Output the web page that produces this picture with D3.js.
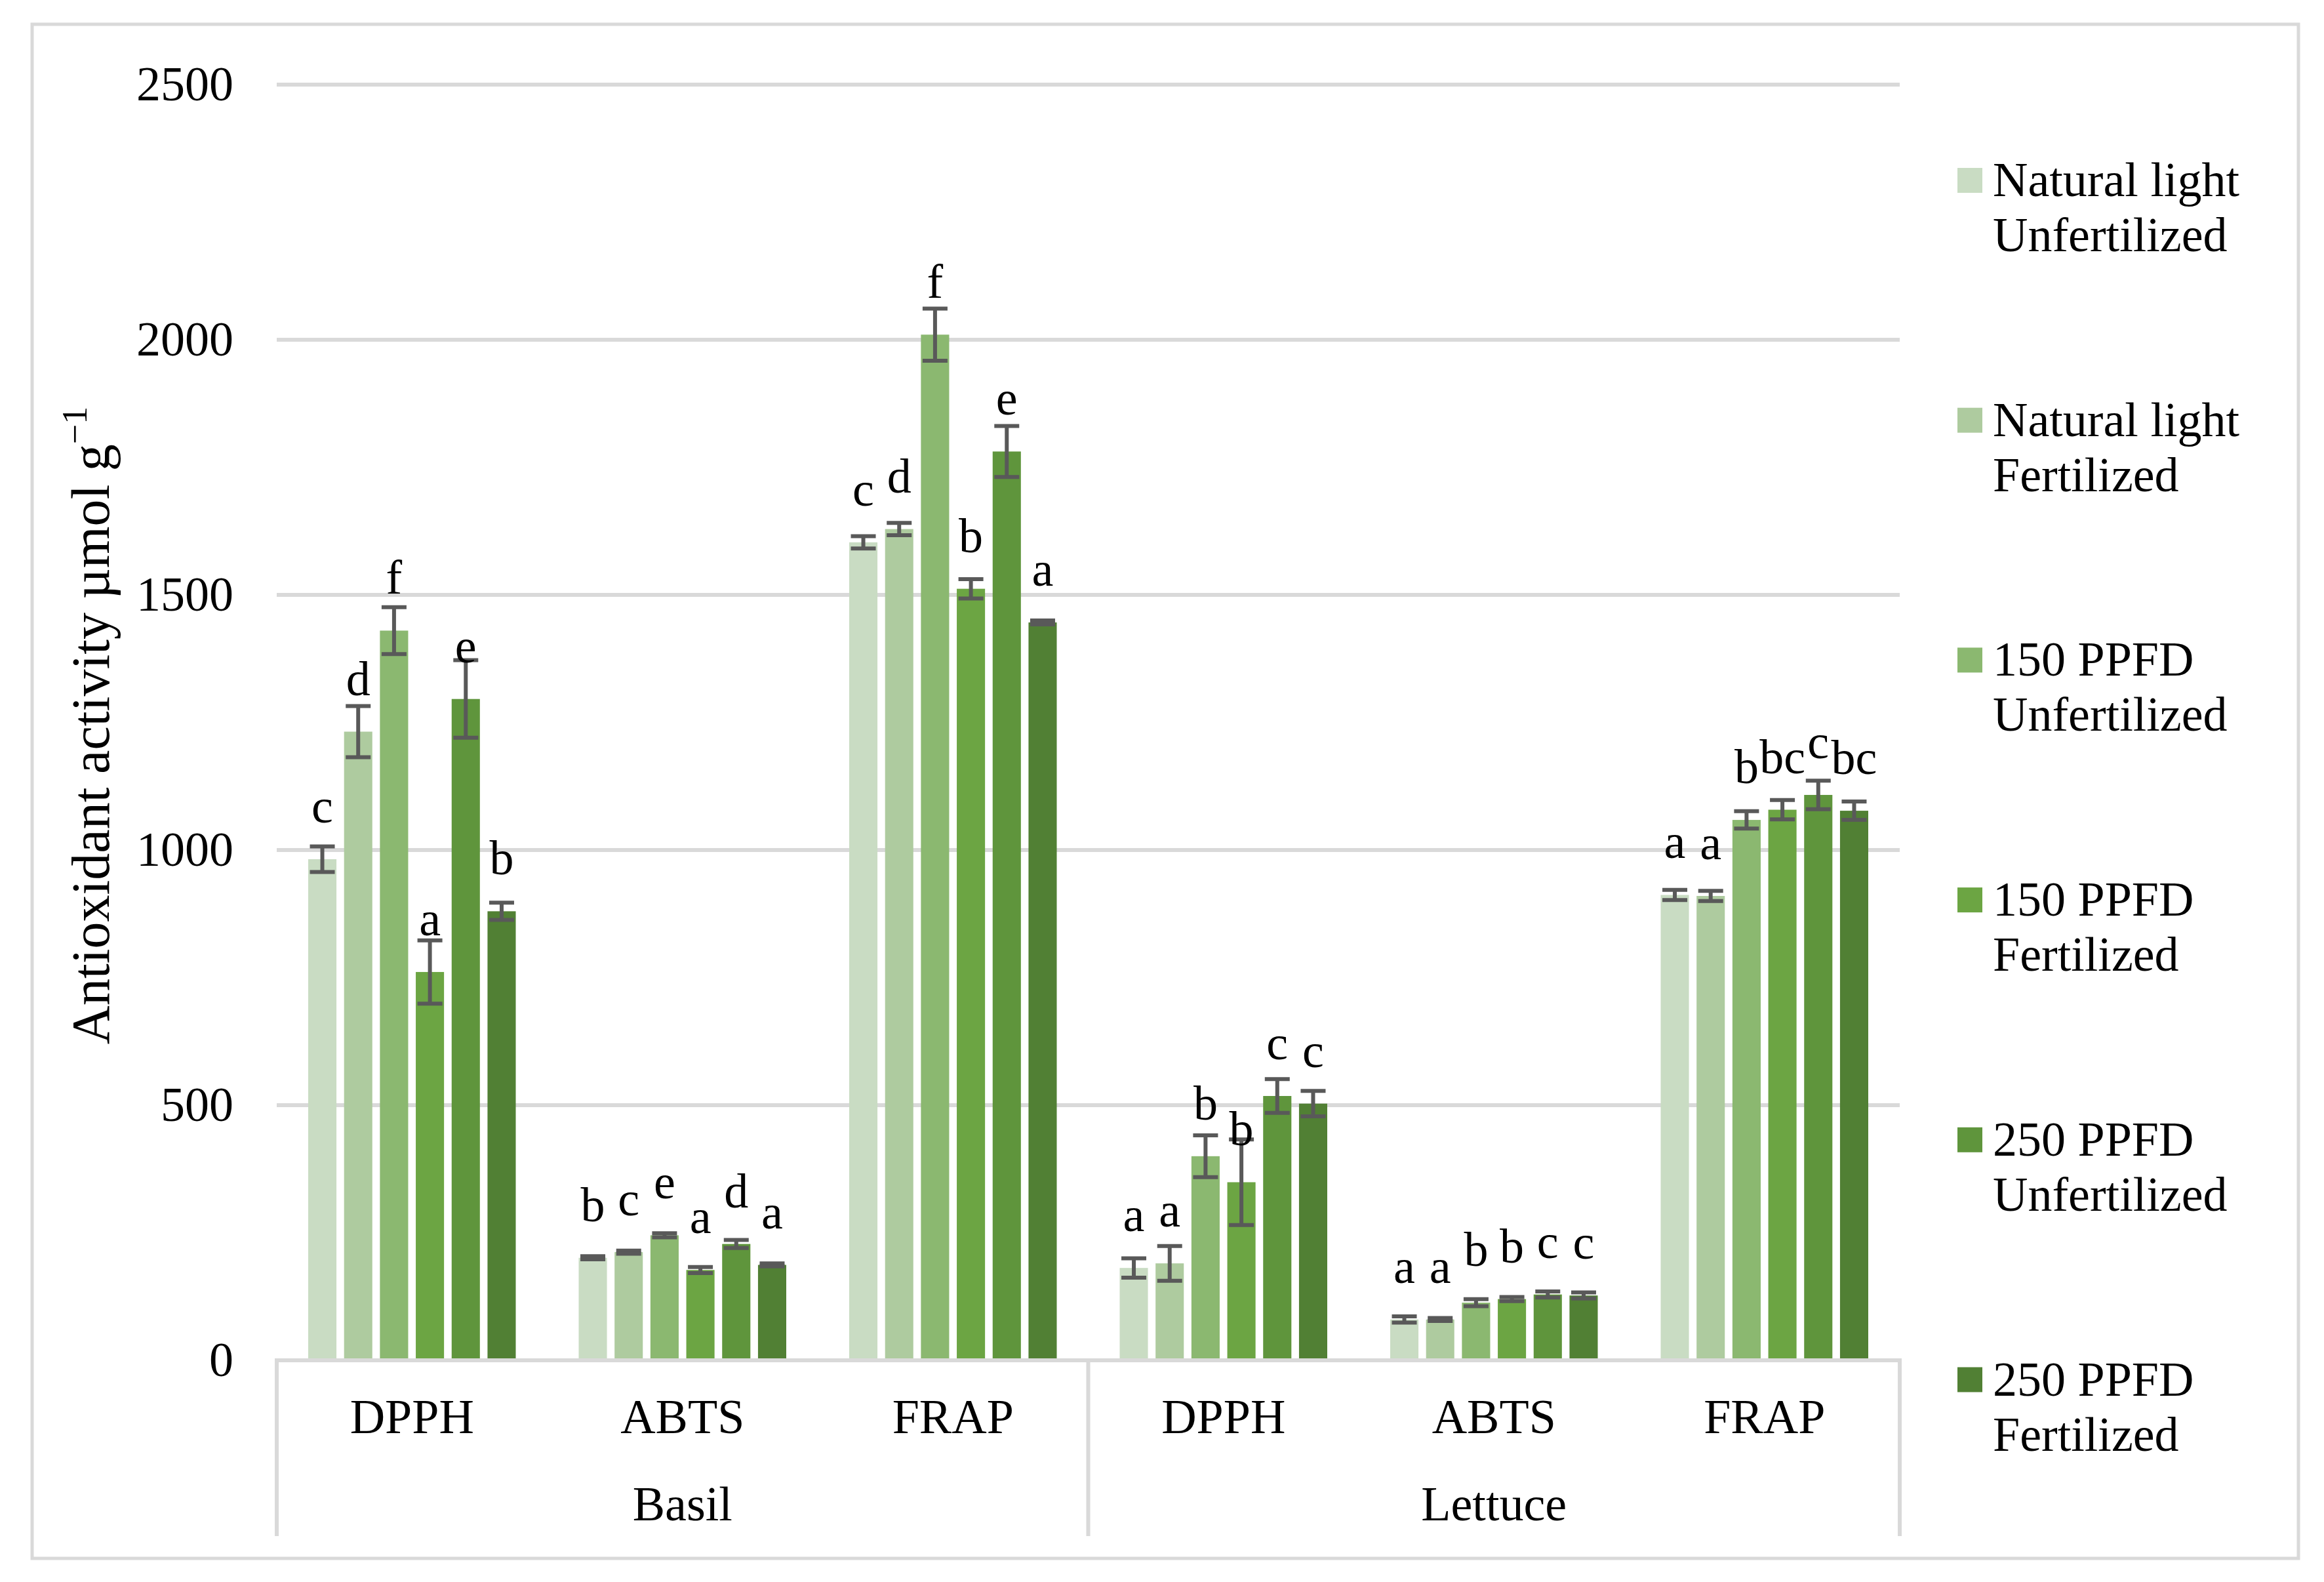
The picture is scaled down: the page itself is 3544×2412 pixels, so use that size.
<!DOCTYPE html>
<html>
<head>
<meta charset="utf-8">
<script src="https://cdn.jsdelivr.net/npm/d3@7"></script>
<style>
  html, body { margin: 0; padding: 0; background: #ffffff; }
  svg { display: block; }
  text { font-family: "Liberation Serif", "Times New Roman", serif; fill: #000; }
</style>
</head>
<body>
<svg id="chart" width="3544" height="2412"></svg>
<script>
// ---------- data ----------
const categories = ["DPPH", "ABTS", "FRAP", "DPPH", "ABTS", "FRAP"];
const groups = ["Basil", "Lettuce"];
const seriesNames = [
  ["Natural light", "Unfertilized"],
  ["Natural light", "Fertilized"],
  ["150 PPFD", "Unfertilized"],
  ["150 PPFD", "Fertilized"],
  ["250 PPFD", "Unfertilized"],
  ["250 PPFD", "Fertilized"]
];
const seriesColors = ["#C9DCC3", "#AECB9F", "#8BB870", "#6CA543", "#5F953C", "#518034"];
const yTicks = [0, 500, 1000, 1500, 2000, 2500];

const natUnfert   = [982, 201, 1603, 181, 80, 912];
const natFert     = [1232, 212, 1629, 190, 80, 910];
const p150Unfert  = [1430, 245, 2010, 400, 113, 1059];
const p150Fert    = [761, 177, 1512, 349, 120, 1079];
const p250Unfert  = [1296, 228, 1781, 518, 129, 1108];
const p250Fert    = [880, 187, 1446, 503, 127, 1077];

const natUnfertErr  = [25, 3, 12, 19, 6, 10];
const natFertErr    = [50, 3, 12, 34, 3, 10];
const p150UnfertErr = [46, 4, 51, 41, 7, 17];
const p150FertErr   = [62, 6, 19, 84, 4, 19];
const p250UnfertErr = [76, 8, 50, 33, 6, 28];
const p250FertErr   = [17, 3, 4, 25, 6, 18];

const natUnfertLbl  = ["c", "b", "c", "a", "a", "a"];
const natFertLbl    = ["d", "c", "d", "a", "a", "a"];
const p150UnfertLbl = ["f", "e", "f", "b", "b", "b"];
const p150FertLbl   = ["a", "a", "b", "b", "b", "bc"];
const p250UnfertLbl = ["e", "d", "e", "c", "c", "c"];
const p250FertLbl   = ["b", "a", "a", "c", "c", "bc"];

const values = [natUnfert, natFert, p150Unfert, p150Fert, p250Unfert, p250Fert];
const errors = [natUnfertErr, natFertErr, p150UnfertErr, p150FertErr, p250UnfertErr, p250FertErr];
const letters = [natUnfertLbl, natFertLbl, p150UnfertLbl, p150FertLbl, p250UnfertLbl, p250FertLbl];

// ---------- layout ----------
const svg = d3.select("#chart");
svg.append("rect").attr("x", 0).attr("y", 0).attr("width", 3544).attr("height", 2412).attr("fill", "#fff");

// outer border
svg.append("rect").attr("x", 49).attr("y", 37).attr("width", 3505 - 49).attr("height", 2376 - 37)
  .attr("fill", "none").attr("stroke", "#D9D9D9").attr("stroke-width", 5);

const plotLeft = 422, plotRight = 2897, plotTop = 129, plotBottom = 2074;
const gridColor = "#D9D9D9";
const fontSize = 74;

const y = d3.scaleLinear().domain([0, 2500]).range([plotBottom, plotTop]);
const x0 = d3.scaleBand().domain(d3.range(categories.length)).range([plotLeft, plotRight]).padding(0);
const x1 = d3.scaleBand().domain(d3.range(seriesNames.length))
  .range([48, x0.bandwidth() - 48]).paddingInner(0.2125).paddingOuter(0);

// gridlines
svg.append("g").selectAll("line").data(yTicks.filter(d => d > 0)).join("line")
  .attr("x1", plotLeft).attr("x2", plotRight)
  .attr("y1", d => y(d)).attr("y2", d => y(d))
  .attr("stroke", gridColor).attr("stroke-width", 6);

// y axis labels
const yAxis = d3.axisLeft(y).tickValues(yTicks).tickSize(0).tickPadding(66).tickFormat(d3.format("d"));
const yg = svg.append("g").attr("transform", `translate(${plotLeft},0)`).call(yAxis);
yg.select(".domain").remove();
yg.selectAll("text").attr("font-size", fontSize).attr("font-family", "Liberation Serif, Times New Roman, serif").attr("fill", "#000");

// bars
const seriesG = svg.append("g").selectAll("g").data(values).join("g")
  .attr("fill", (d, i) => seriesColors[i]);
seriesG.each(function(vals, si) {
  d3.select(this).selectAll("rect").data(vals).join("rect")
    .attr("x", (d, ci) => x0(ci) + x1(si))
    .attr("width", x1.bandwidth())
    .attr("y", d => y(d))
    .attr("height", d => y(0) - y(d));
});

// category axis lines
svg.append("line").attr("x1", plotLeft).attr("x2", plotRight).attr("y1", plotBottom).attr("y2", plotBottom)
  .attr("stroke", gridColor).attr("stroke-width", 6);
const groupBounds = [0, 3, 6];
svg.append("g").selectAll("line").data(groupBounds).join("line")
  .attr("x1", d => d < 6 ? x0(d) : plotRight).attr("x2", d => d < 6 ? x0(d) : plotRight)
  .attr("y1", plotBottom - 3).attr("y2", 2342)
  .attr("stroke", gridColor).attr("stroke-width", 6);

// error bars
const capW = 38;
const errG = svg.append("g").attr("stroke", "#595959").attr("stroke-width", 6).attr("fill", "none");
values.forEach((vals, si) => {
  vals.forEach((v, ci) => {
    const cx = x0(ci) + x1(si) + x1.bandwidth() / 2;
    const e = errors[si][ci];
    const yt = y(v + e), yb = y(v - e);
    errG.append("line").attr("x1", cx).attr("x2", cx).attr("y1", yt).attr("y2", yb);
    errG.append("line").attr("x1", cx - capW / 2).attr("x2", cx + capW / 2).attr("y1", yt).attr("y2", yt);
    errG.append("line").attr("x1", cx - capW / 2).attr("x2", cx + capW / 2).attr("y1", yb).attr("y2", yb);
  });
});

// significance letters
const lblG = svg.append("g").attr("font-size", fontSize).attr("text-anchor", "middle");
values.forEach((vals, si) => {
  vals.forEach((v, ci) => {
    const cx = x0(ci) + x1(si) + x1.bandwidth() / 2;
    lblG.append("text").attr("x", cx).attr("y", y(v) - 56).text(letters[si][ci]);
  });
});

// category labels
svg.append("g").selectAll("text").data(categories).join("text")
  .attr("x", (d, i) => x0(i) + x0.bandwidth() / 2).attr("y", 2185)
  .attr("text-anchor", "middle").attr("font-size", fontSize).text(d => d);

// group labels
svg.append("g").selectAll("text").data(groups).join("text")
  .attr("x", (d, i) => (x0(i * 3) + (i === 1 ? plotRight : x0(3))) / 2).attr("y", 2318)
  .attr("text-anchor", "middle").attr("font-size", fontSize).text(d => d);

// y title
const yt = svg.append("text").attr("transform", "translate(166,1106) rotate(-90)")
  .attr("text-anchor", "middle").attr("font-size", 82);
yt.append("tspan").text("Antioxidant activity µmol g");
yt.append("tspan").attr("font-size", 54).attr("dy", -34).text("−1");

// legend
const legG = svg.append("g").selectAll("g").data(seriesNames).join("g")
  .attr("transform", (d, i) => `translate(0,${275 + 365.7 * i})`);
legG.append("rect").attr("x", 2985).attr("y", -19).attr("width", 38).attr("height", 38)
  .attr("fill", (d, i) => seriesColors[i]);
legG.append("text").attr("x", 3039).attr("y", 24).attr("font-size", fontSize).text(d => d[0]);
legG.append("text").attr("x", 3039).attr("y", 108).attr("font-size", fontSize).text(d => d[1]);
</script>
</body>
</html>
